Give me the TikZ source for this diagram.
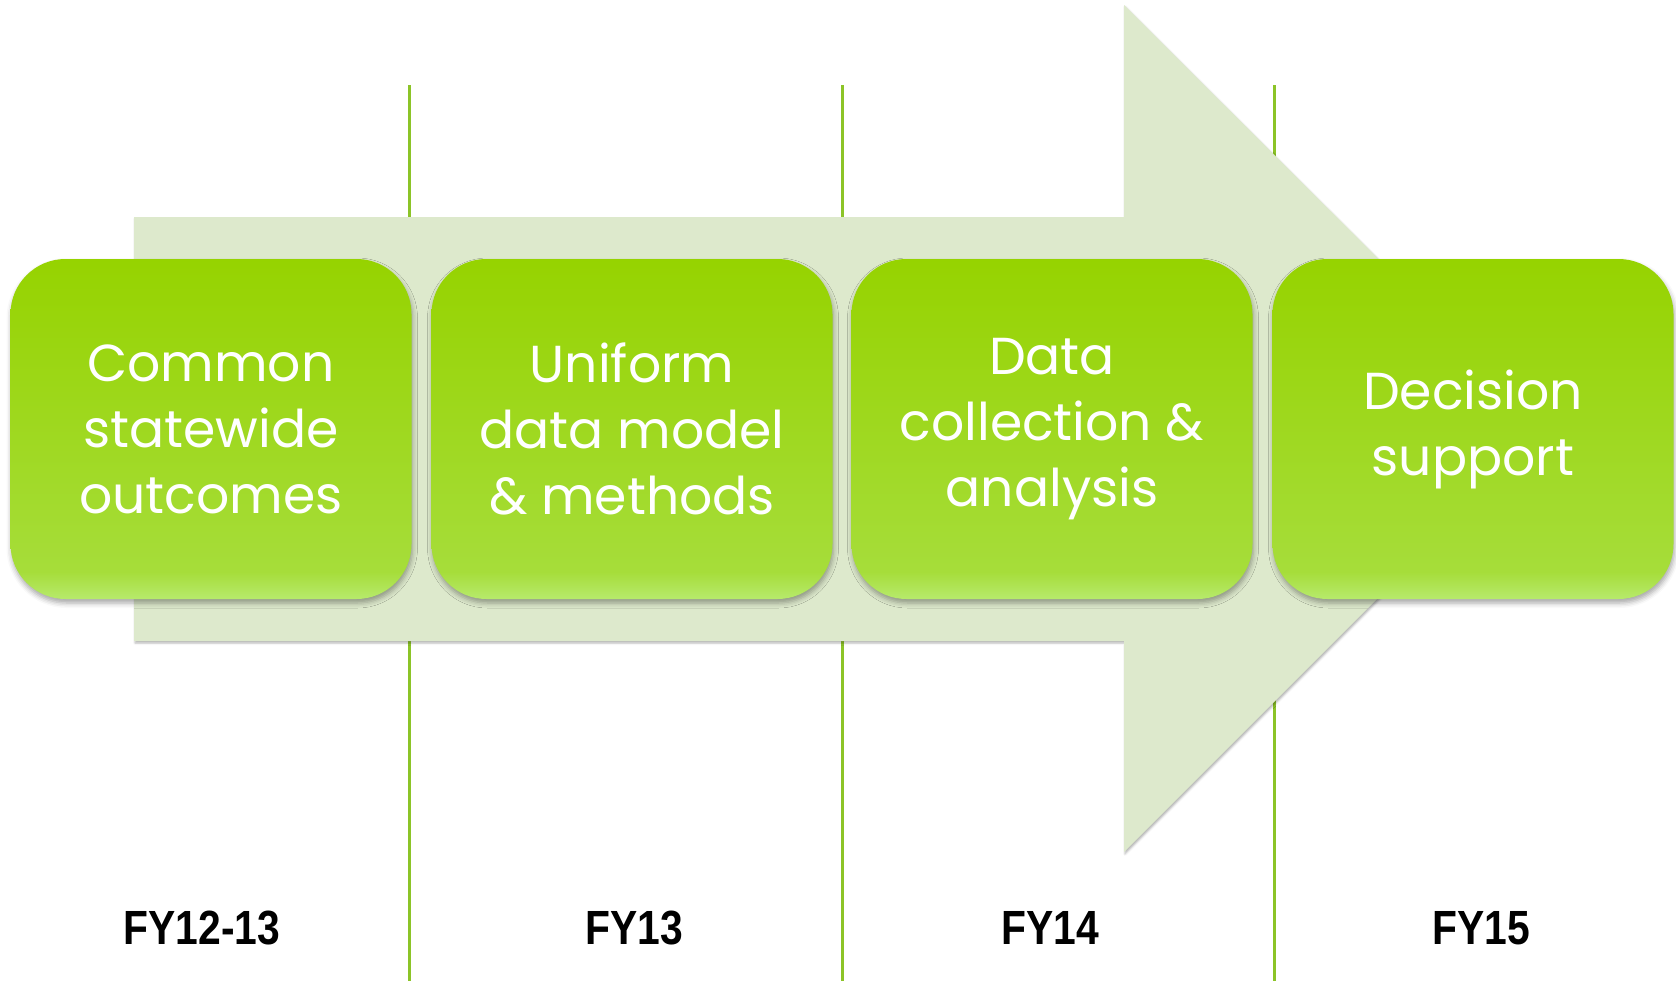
\documentclass[tikz,border=0pt]{standalone}
\usepackage{fontspec}
\setmainfont{Poppins}
\newfontfamily\fyfont[FakeStretch=0.85]{Liberation Sans}
\usetikzlibrary{shadows,shadows.blur}
\definecolor{arrowfill}{RGB}{221,233,204}
\definecolor{boxtop}{RGB}{150,211,0}
\definecolor{boxmid}{RGB}{166,221,58}
\definecolor{boxbot}{RGB}{183,234,108}
\definecolor{linegreen}{RGB}{140,196,40}
\pgfdeclareverticalshading{boxshade}{100bp}{color(0bp)=(boxbot); color(25bp)=(boxbot); color(29bp)=(boxmid); color(75bp)=(boxtop); color(100bp)=(boxtop)}
\tikzset{
  period/.style={draw=linegreen, line width=3pt},
  bigarrow/.style={fill=arrowfill, draw=none, blur shadow={shadow xshift=1pt, shadow yshift=-2pt, shadow blur radius=2pt, shadow opacity=30}},
  stagebox/.style={minimum width=401pt, minimum height=340pt, rounded corners=55pt, shading=boxshade, draw=none, text=white, align=center, inner sep=0pt, font=\fontsize{52}{66}\selectfont, blur shadow={shadow xshift=1pt, shadow yshift=-4pt, shadow blur radius=5pt, shadow opacity=35}},
  fylabel/.style={font=\fyfont\bfseries\fontsize{48}{50}\selectfont, text=black, inner sep=0pt}
}
\begin{document}
\begin{tikzpicture}[x=1pt,y=-1pt]
\useasboundingbox (0,0) rectangle (1676,985);
% period separators
\coordinate (l1t) at (409,85);  \coordinate (l1b) at (409,981);
\coordinate (l2t) at (842,85);  \coordinate (l2b) at (842,981);
\coordinate (l3t) at (1274,85); \coordinate (l3b) at (1274,981);
\draw[period] (l1t) -- (l1b);
\draw[period] (l2t) -- (l2b);
\draw[period] (l3t) -- (l3b);
% big arrow
\path[bigarrow] (134,217) -- (1124,217) -- (1124,5) -- (1548,428) -- (1124,852) -- (1124,641) -- (134,641) -- cycle;
% stage boxes
\node[stagebox] (b1) at (211,429) {Common\\statewide\\outcomes};
\node[stagebox] (b2) at (632,429) {Uniform\\data model\\\& methods};
\node[stagebox] (b3) at (1052,429) {Data\\collection \&\\analysis};
\node[stagebox] (b4) at (1473,429) {Decision\\support};
% labels
\node[fylabel] (f1) at (202,928) {FY12-13};
\node[fylabel] (f2) at (634,928) {FY13};
\node[fylabel] (f3) at (1050,928) {FY14};
\node[fylabel] (f4) at (1481,928) {FY15};
\end{tikzpicture}
\end{document}
